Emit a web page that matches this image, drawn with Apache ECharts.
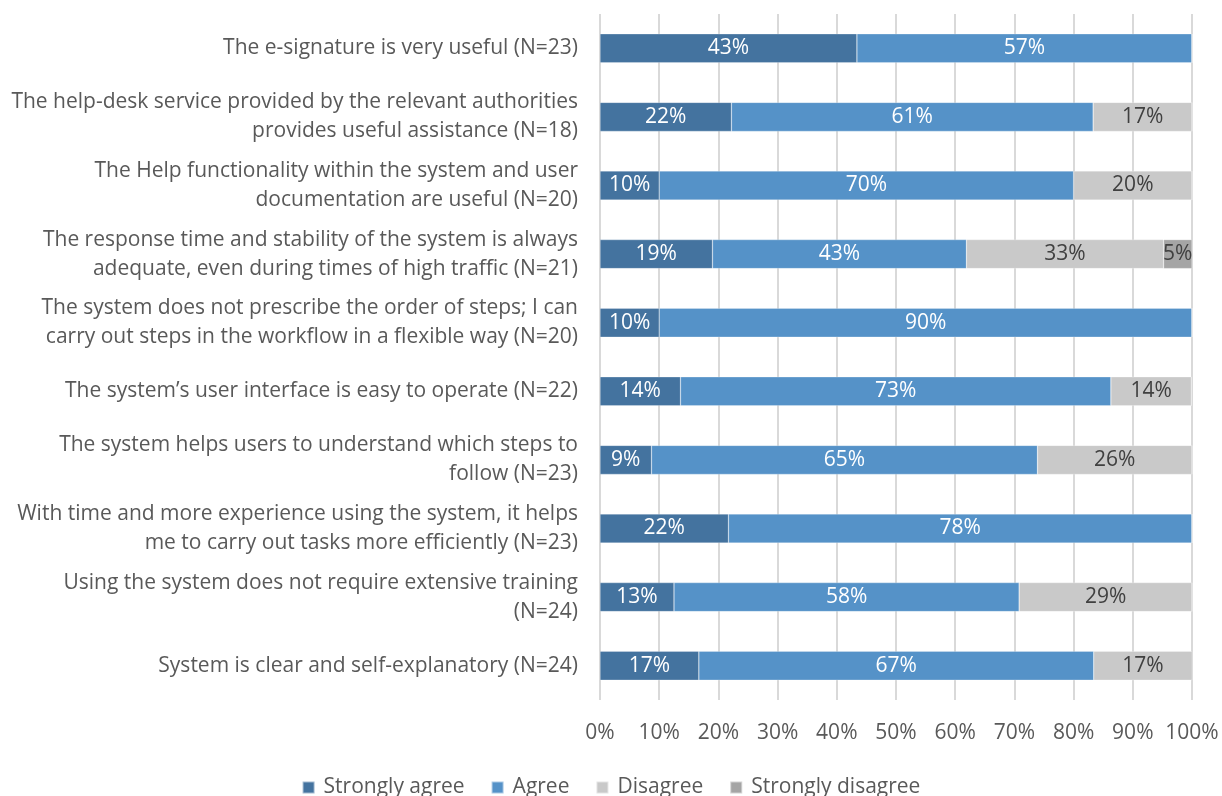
<!DOCTYPE html>
<html><head><meta charset="utf-8">
<script src="https://cdn.jsdelivr.net/npm/echarts@6/dist/echarts.min.js"></script>
<style>html,body{margin:0;padding:0;background:#fff}#c{width:1222px;height:796px}</style>
</head><body><div id="c"></div>
<script>
const categories = [
  "The e-signature is very useful (N=23)",
  "The help-desk service provided by the relevant authorities\nprovides useful assistance (N=18)",
  "The Help functionality within the system and user\ndocumentation are useful (N=20)",
  "The response time and stability of the system is always\nadequate, even during times of high traffic (N=21)",
  "The system does not prescribe the order of steps; I can\ncarry out steps in the workflow in a flexible way (N=20)",
  "The system\u2019s user interface is easy to operate (N=22)",
  "The system helps users to understand which steps to\nfollow (N=23)",
  "With time and more experience using the system, it helps\nme to carry out tasks more efficiently (N=23)",
  "Using the system does not require extensive training\n(N=24)",
  "System is clear and self-explanatory (N=24)"
];
const stronglyAgree    = [43.4, 22.2, 10.0, 19.0, 10.0, 13.6,  8.7, 21.7, 12.5, 16.7];
const agree            = [56.6, 61.1, 70.0, 42.9, 90.0, 72.7, 65.2, 78.3, 58.3, 66.7];
const disagree         = [ 0.0, 16.7, 20.0, 33.3,  0.0, 13.6, 26.1,  0.0, 29.2, 16.7];
const stronglyDisagree = [ 0.0,  0.0,  0.0,  4.8,  0.0,  0.0,  0.0,  0.0,  0.0,  0.0];
const seriesNames = ["Strongly agree", "Agree", "Disagree", "Strongly disagree"];
const tickLabels = ["0%","10%","20%","30%","40%","50%","60%","70%","80%","90%","100%"];

const colors = ["#44739f", "#5592c8", "#c9c9c9", "#a5a5a5"];
const labelColors = ["#ffffff", "#ffffff", "#404040", "#404040"];
const FONT = "Open Sans";
const FS = 21;
const dataSets = [stronglyAgree, agree, disagree, stronglyDisagree];

const chart = echarts.init(document.getElementById('c'));
chart.setOption({
  animation: false,
  textStyle: {fontFamily: FONT},
  grid: {left: 600, right: 30, top: 14, bottom: 96, containLabel: false},
  legend: {
    bottom: -7, left: 'center', itemWidth: 12, itemHeight: 12, itemGap: 26, icon: 'rect',
    textStyle: {fontSize: FS, color: '#595959', fontFamily: FONT, padding: [0, 0, 0, 4]},
    data: seriesNames
  },
  xAxis: {
    type: 'value', min: 0, max: 100, interval: 10,
    axisLine: {show: false}, axisTick: {show: false},
    splitLine: {show: true, lineStyle: {color: '#d9d9d9', width: 2}},
    axisLabel: {fontSize: FS, color: '#595959', margin: 23,
      formatter: v => tickLabels[Math.round(v / 10)]}
  },
  yAxis: {
    type: 'category', inverse: true, data: categories,
    axisLine: {show: false}, axisTick: {show: false},
    axisLabel: {fontSize: FS, color: '#595959', margin: 22, align: 'right', lineHeight: 29}
  },
  series: seriesNames.map((n, i) => ({
    name: n, type: 'bar', stack: 'total', barWidth: 29,
    itemStyle: {color: colors[i], borderColor: 'rgba(255,255,255,0.5)', borderWidth: 0.5},
    label: {show: true, position: 'inside', color: labelColors[i], fontSize: FS, fontFamily: FONT,
      formatter: p => p.value > 0 ? Math.round(p.value) + '%' : ''},
    data: dataSets[i]
  }))
});
</script></body></html>
